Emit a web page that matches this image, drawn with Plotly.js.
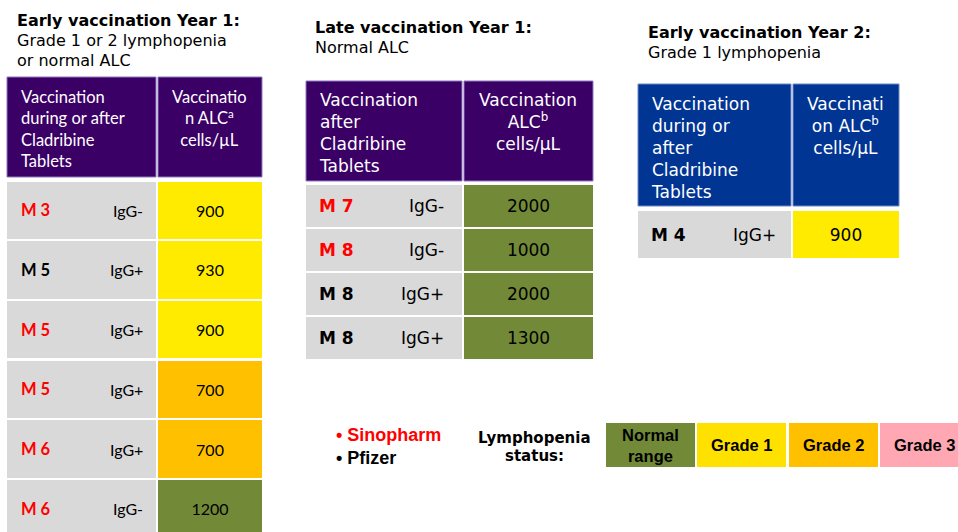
<!DOCTYPE html>
<html>
<head>
<meta charset="utf-8">
<script src="https://cdn.plot.ly/plotly-3.0.1.min.js"></script>
<style>html,body{margin:0;padding:0;background:#fff;}#chart{width:958px;height:532px;}</style>
</head>
<body>
<div id="chart"></div>
<script>
// ---------------- DATA ----------------
const p1Months  = ['M 3', 'M 5', 'M 5', 'M 5', 'M 6', 'M 6'];
const p1Vaccine = ['Sinopharm', 'Pfizer', 'Sinopharm', 'Sinopharm', 'Sinopharm', 'Sinopharm'];
const p1IgG     = ['IgG-', 'IgG+', 'IgG+', 'IgG+', 'IgG+', 'IgG-'];
const p1ALC     = [900, 930, 900, 700, 700, 1200];

const p2Months  = ['M 7', 'M 8', 'M 8', 'M 8'];
const p2Vaccine = ['Sinopharm', 'Sinopharm', 'Pfizer', 'Pfizer'];
const p2IgG     = ['IgG-', 'IgG-', 'IgG+', 'IgG+'];
const p2ALC     = [2000, 1000, 2000, 1300];

const p3Months  = ['M 4'];
const p3Vaccine = ['Pfizer'];
const p3IgG     = ['IgG+'];
const p3ALC     = [900];

const statusLabels = ['Normal<br>range', 'Grade 1', 'Grade 2', 'Grade 3'];
const vaccineLabels = ['Sinopharm', 'Pfizer'];

// ---------------- STYLE ----------------
const VERD = 'DejaVu Sans, Verdana, sans-serif';
const CALI = 'Lato, Carlito, Calibri, sans-serif';
const TAHO = 'Liberation Sans, Arial, sans-serif';
const RED = '#ff0000';
const GREY = '#d9d9d9';
const vaccineColor = {Sinopharm: RED, Pfizer: '#000000'};
const tableStatusColors = ['#728a38', '#ffeb00', '#ffc000', '#ffa8b4'];
const legendStatusColors = ['#728a38', '#ffe100', '#ffc000', '#ffa8b4'];

function grade(v) { return v >= 1000 ? 0 : v >= 800 ? 1 : v >= 500 ? 2 : 3; }

const panels = [
  {months: p1Months, vac: p1Vaccine, igg: p1IgG, alc: p1ALC,
   x0: 7, split: 157, x1: 262, hTop: 77, hBot: 177, rowTop: 181.5, pitch: 59.7, rowH: 57.5,
   labelX: 20, igRight: 144, headTextTop: 86, headColor: '#3a0066', headLine: '#8f78bf',
   headFont: {family: CALI, size: 16.5, color: '#ffffff'},
   cellFont: {family: CALI, size: 16, color: '#000000'},
   boldFont: {family: CALI, size: 16.5, weight: 'bold'},
   headLeft: 'Vaccination<br>during or after<br>Cladribine<br>Tablets',
   headRight: 'Vaccinatio<br>n ALC<sup>a</sup><br>cells/µL',
   titleX: 16, titleY: [20, 40, 60],
   title: ['<b>Early vaccination Year 1:</b>', 'Grade 1 or 2 lymphopenia', 'or normal ALC']},
  {months: p2Months, vac: p2Vaccine, igg: p2IgG, alc: p2ALC,
   x0: 306, split: 463, x1: 593, hTop: 81, hBot: 181, rowTop: 185, pitch: 44, rowH: 42,
   labelX: 318, igRight: 445, headTextTop: 88.5, headColor: '#3a0066', headLine: '#8f78bf',
   headFont: {family: VERD, size: 17, color: '#ffffff'},
   cellFont: {family: VERD, size: 17, color: '#000000'},
   boldFont: {family: VERD, size: 17, weight: 'bold'},
   headLeft: 'Vaccination<br>after<br>Cladribine<br>Tablets',
   headRight: 'Vaccination<br>ALC<sup>b</sup><br>cells/µL',
   titleX: 314, titleY: [27, 47],
   title: ['<b>Late vaccination Year 1:</b>', 'Normal ALC']},
  {months: p3Months, vac: p3Vaccine, igg: p3IgG, alc: p3ALC,
   x0: 638, split: 792, x1: 899, hTop: 84, hBot: 206, rowTop: 211, pitch: 47, rowH: 47,
   labelX: 650, igRight: 777, headTextTop: 92.5, headColor: '#003594', headLine: '#6f86c4',
   headFont: {family: VERD, size: 17, color: '#ffffff'},
   cellFont: {family: VERD, size: 17, color: '#000000'},
   boldFont: {family: VERD, size: 17, weight: 'bold'},
   headLeft: 'Vaccination<br>during or<br>after<br>Cladribine<br>Tablets',
   headRight: 'Vaccinati<br>on ALC<sup>b</sup><br>cells/µL',
   titleX: 647, titleY: [32, 52],
   title: ['<b>Early vaccination Year 2:</b>', 'Grade 1 lymphopenia']}
];

const GAP = 1; // half gap between adjacent cells
const traces = [];
const annotations = [];

function bars(x0s, x1s, y0s, y1s, colors, opts) {
  const t = Object.assign({
    type: 'bar', orientation: 'h',
    base: x0s,
    x: x0s.map((v, i) => x1s[i] - v),
    y: y0s.map((v, i) => (v + y1s[i]) / 2),
    width: y0s.map((v, i) => y1s[i] - v),
    marker: {color: colors, line: {width: 0}},
    hoverinfo: 'skip', showlegend: false, cliponaxis: true
  }, opts || {});
  traces.push(t);
}

function ann(text, x, y, xanchor, font, yanchor, align) {
  annotations.push({text: text, x: x, y: y, xref: 'x', yref: 'y', xanchor: xanchor,
    yanchor: yanchor || 'middle', align: align || (xanchor === 'right' ? 'right' : 'left'),
    showarrow: false, font: font, borderpad: 0});
}

panels.forEach(p => {
  // titles
  p.title.forEach((t, i) => ann(t, p.titleX, p.titleY[i], 'left', {family: VERD, size: 16, color: '#000'}));

  // header cells
  bars([p.x0, p.split + GAP], [p.split - GAP, p.x1], [p.hTop, p.hTop], [p.hBot, p.hBot],
       [p.headColor, p.headColor], {marker: {color: p.headColor, line: {width: 1, color: p.headLine}}});
  ann(p.headLeft, p.labelX, p.headTextTop, 'left', p.headFont, 'top', 'left');
  ann(p.headRight, (p.split + p.x1) / 2, p.headTextTop, 'center', p.headFont, 'top', 'center');

  // data rows
  const n = p.alc.length;
  const y0s = p.alc.map((v, i) => p.rowTop + i * p.pitch);
  const y1s = y0s.map(v => v + p.rowH);
  bars(Array(n).fill(p.x0), Array(n).fill(p.split - GAP), y0s, y1s, Array(n).fill(GREY));
  bars(Array(n).fill(p.split + GAP), Array(n).fill(p.x1), y0s, y1s,
       p.alc.map(v => tableStatusColors[grade(v)]),
       {text: p.alc.map(String), textposition: 'inside', insidetextanchor: 'middle',
        textangle: 0, constraintext: 'none', insidetextfont: p.cellFont});
  p.months.forEach((m, i) => {
    const yc = (y0s[i] + y1s[i]) / 2;
    ann(m, p.labelX, yc, 'left', Object.assign({}, p.boldFont, {color: vaccineColor[p.vac[i]]}));
    ann(p.igg[i], p.igRight, yc, 'right', p.cellFont);
  });
});

// ---- vaccine key ----
const keyY = [435, 458];
vaccineLabels.forEach((v, i) => {
  ann('• ' + v, 335, keyY[i], 'left', {family: TAHO, size: 18, weight: 'bold', color: vaccineColor[v]});
});

// ---- lymphopenia status key ----
ann('Lymphopenia', 534, 438, 'center', {family: VERD, size: 15, weight: 'bold', color: '#000'});
ann('status:', 534, 456, 'center', {family: VERD, size: 15, weight: 'bold', color: '#000'});
const keyX0 = 606, keyW = 91, keyStep = 91.3, keyTop = 423, keyBot = 467;
const kx0 = statusLabels.map((s, i) => keyX0 + i * keyStep);
bars(kx0, kx0.map(v => v + keyW - 2 * GAP), statusLabels.map(() => keyTop), statusLabels.map(() => keyBot),
     legendStatusColors);
statusLabels.forEach((s, i) => {
  ann('<b>' + s.replace('<br>', '</b><br><b>') + '</b>', kx0[i] + (keyW - 2 * GAP) / 2, (keyTop + keyBot) / 2,
      'center', {family: TAHO, size: 16.5, color: '#000'}, 'middle', 'center');
});

const layout = {
  width: 958, height: 532,
  margin: {l: 0, r: 0, t: 0, b: 0, pad: 0},
  paper_bgcolor: '#ffffff', plot_bgcolor: '#ffffff',
  barmode: 'overlay', bargap: 0, showlegend: false, hovermode: false,
  xaxis: {range: [0, 958], visible: false, fixedrange: true, showgrid: false, zeroline: false},
  yaxis: {range: [532, 0], type: 'linear', visible: false, fixedrange: true, showgrid: false, zeroline: false},
  annotations: annotations
};

Plotly.newPlot('chart', traces, layout, {displayModeBar: false, staticPlot: true});
</script>
</body>
</html>
